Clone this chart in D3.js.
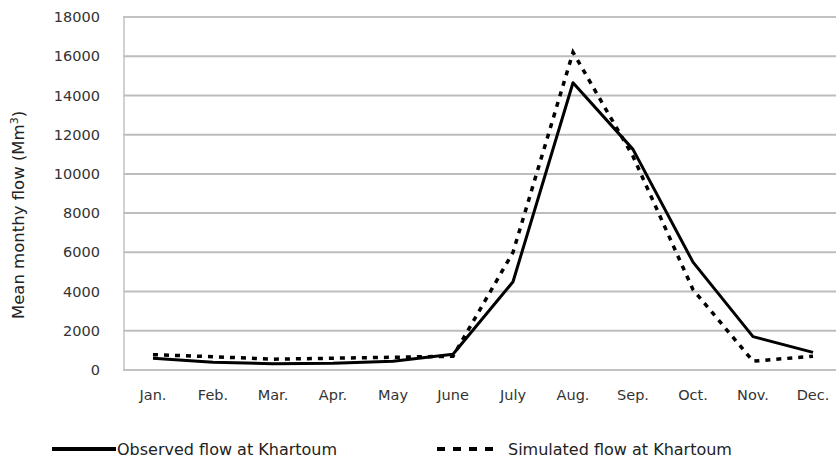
<!DOCTYPE html>
<html>
<head>
<meta charset="utf-8">
<script src="https://cdn.jsdelivr.net/npm/d3@7"></script>
<style>
  body { margin: 0; background: #fff; }
  text { font-family: "DejaVu Sans", sans-serif; }
</style>
</head>
<body>
<div class="flowChart"></div>
<script>
// Chart values
const months = ["Jan.", "Feb.", "Mar.", "Apr.", "May", "June", "July", "Aug.", "Sep.", "Oct.", "Nov.", "Dec."];
const observed = [600, 400, 320, 350, 450, 800, 4500, 14650, 11250, 5500, 1700, 900];
const simulated = [780, 680, 550, 600, 650, 700, 6000, 16200, 10900, 4100, 450, 700];
const yTicks = [0, 2000, 4000, 6000, 8000, 10000, 12000, 14000, 16000, 18000];

const width = 836
const height = 463
const margin = { top: 17, right: -7, bottom: 93, left: 123 };

const svg = d3.select(".flowChart")
  .append("svg")
  .attr("width", width)
  .attr("height", height)

const x = d3.scaleBand()
  .domain(months)
  .range([margin.left, width - margin.right])

const y = d3.scaleLinear()
  .domain([0, 18000])
  .range([height - margin.bottom, margin.top])

// Gridlines
svg.append("g")
  .selectAll("line")
  .data(yTicks)
  .join("line")
  .attr("x1", margin.left)
  .attr("x2", width - margin.right)
  .attr("y1", d => y(d))
  .attr("y2", d => y(d))
  .attr("stroke", "#bdbdbd")
  .attr("stroke-width", 2)

// Plot border
svg.append("rect")
  .attr("x", margin.left + 1)
  .attr("y", y(18000))
  .attr("width", width - margin.right - margin.left)
  .attr("height", y(0) - y(18000))
  .attr("fill", "none")
  .attr("stroke", "#c4c4c4")
  .attr("stroke-width", 1.5)

// Y axis labels
const yAxis = svg.append("g")
  .attr("transform", `translate(${margin.left - 23},0)`)
  .call(d3.axisLeft(y).tickValues(yTicks).tickSize(0).tickPadding(0).tickFormat(d3.format("d")))
yAxis.select(".domain").remove()
yAxis.selectAll("text")
  .style("font-family", "DejaVu Sans, sans-serif")
  .style("font-size", "14.5px")
  .attr("fill", "#333")

// X axis labels
const xAxis = svg.append("g")
  .attr("transform", `translate(0,${y(0) + 20})`)
  .call(d3.axisBottom(x).tickSize(0).tickPadding(0))
xAxis.select(".domain").remove()
xAxis.selectAll("text")
  .style("font-family", "DejaVu Sans, sans-serif")
  .style("font-size", "14.5px")
  .attr("fill", "#333")

// Y axis title
svg.append("text")
  .attr("transform", `translate(24, 215) rotate(-90)`)
  .attr("text-anchor", "middle")
  .style("font-size", "16.5px")
  .attr("fill", "#222")
  .text("Mean monthy flow (Mm")
  .append("tspan")
  .attr("dy", -6)
  .style("font-size", "11px")
  .text("3")
  .append("tspan")
  .attr("dy", 6)
  .style("font-size", "16.5px")
  .text(")")

// Lines
const line = d3.line()
  .x((d, i) => x(months[i]) + x.bandwidth() / 2)
  .y(d => y(d))

svg.append("path")
  .datum(simulated)
  .attr("d", line)
  .attr("fill", "none")
  .attr("stroke", "#000")
  .attr("stroke-width", 3.5)
  .attr("stroke-dasharray", "5,6")

svg.append("path")
  .datum(observed)
  .attr("d", line)
  .attr("fill", "none")
  .attr("stroke", "#000")
  .attr("stroke-width", 3)
  .attr("stroke-linejoin", "round")

// Legend
const legendItems = [
  { label: "Observed flow at Khartoum", dash: null, x: 52, tx: 117 },
  { label: "Simulated flow at Khartoum", dash: "8,8", x: 437, tx: 508 }
]
const legend = svg.append("g")
  .selectAll("g")
  .data(legendItems)
  .join("g")
  .attr("transform", d => `translate(${d.x}, 449)`)

legend.append("line")
  .attr("x1", 0)
  .attr("x2", d => d.dash ? 58 : 64)
  .attr("stroke", "#000")
  .attr("stroke-width", 4)
  .attr("stroke-dasharray", d => d.dash)

legend.append("text")
  .attr("x", d => d.tx - d.x)
  .attr("y", 5.5)
  .style("font-size", "16px")
  .attr("fill", "#222")
  .text(d => d.label)
</script>
</body>
</html>
